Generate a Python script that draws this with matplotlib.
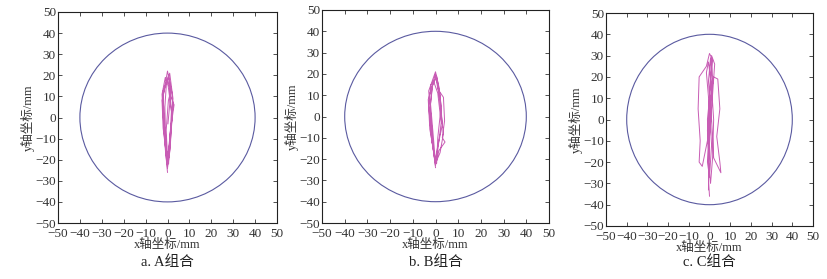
import matplotlib
matplotlib.use("Agg")
import matplotlib.pyplot as plt
from matplotlib.patches import Circle

plt.rcParams['font.family'] = ['Liberation Serif', 'Noto Sans CJK SC']

ticks = [-50, -40, -30, -20, -10, 0, 10, 20, 30, 40, 50]
radius = 40
captions = ["a. A组合", "b. B组合", "c. C组合"]

A_x = [0, -1.0, -1.5, -2.0, 0.0, 2.0, 2.5, 1.0, 0.5, -0.5, -2.0, -2.5, -1.0, 0.5, 1.5, 3.0,
       1.5, 0.0, -1.0, -1.8, -2.2, 0.0, 1.0, 2.0, 1.2, 0.0, -0.8, -1.2, -0.5, 1.0, 2.5, 2.0,
       0.8, -0.3, -1.5, -2.5, -1.0, 0.3, 1.8, 1.0, 0.0, -0.6, 0.4, 1.6, 0.2]
A_y = [-26, -15, 0, 10, 22, 12, 5, -10, -22, -18, -5, 8, 15, 20, 10, 6, -5, -20, -10, 2, 12,
       18, 14, 0, -15, -24, -12, 5, 16, 21, 9, -2, -18, -22, -8, 11, 19, 15, 3, -12, -19,
       -6, 8, 13, -3]

B_x = [0, -1.0, -2.0, -3.0, 0.0, 1.5, 2.5, 1.0, 0.5, -0.5, -2.5, -3.2, -1.0, 0.0, 1.0, 3.5,
       4.0, 3.0, 4.2, 1.5, 0.0, -1.5, -2.5, -1.5, 0.5, 2.0, 3.0, 1.0, -0.2, -1.8, -3.0, -2.0,
       0.5, 1.8, 3.5, 2.0, 0.0, -1.0, -2.2, -1.0, 1.0, 2.5, 0.5]
B_y = [-24, -15, 0, 12, 21, 14, 5, -10, -22, -18, -6, 8, 16, 20, 13, 9, -2, -10, -12, -16,
       -23, -12, 2, 14, 19, 10, -4, -14, -21, -10, 5, 15, 18, 8, -8, -17, -22, -9, 6, 17,
       11, -3, -20]

C_x = [0, -0.5, 0.0, -1.0, 0.5, 1.5, 0.0, -1.5, -5.0, -5.5, -4.5, -5.0, -3.5, -1.0, 0.5,
       1.5, 0.5, -0.5, 1.0, 2.0, 5.5, 5.0, 3.5, 5.0, 4.0, 2.0, 0.5, -1.0, -0.5, 0.5, 1.5,
       2.0, 1.0, -0.5, -1.5, 0.0, 1.0, 0.0, -1.0, 0.5, 2.5, 1.0, 0.0, -0.5]
C_y = [-36, -28, -15, 0, 15, 28, 31, 25, 20, 5, -10, -20, -22, -10, 5, 20, 29, 18, 0, -18,
       -25, -20, -8, 5, 19, 20, 10, -5, -20, -30, -18, 0, 15, 27, 22, 5, -12, -27, -20, -2,
       26, 30, 12, -33]

panels = [
    ((58, 12, 277, 223), A_x, A_y),
    ((322, 10, 549, 223), B_x, B_y),
    ((606, 13, 813, 226), C_x, C_y),
]

W, H = 828, 279
fig = plt.figure(figsize=(W / 100, H / 100), dpi=100)

for (l, t, r, b), xs, ys in panels:
    ax = fig.add_axes([l / W, 1 - b / H, (r - l) / W, (b - t) / H])
    ax.set_xlim(-50, 50)
    ax.set_ylim(-50, 50)
    ax.set_xticks(ticks)
    ax.set_yticks(ticks)
    ax.set_xticklabels([str(v).replace('-', '−') for v in ticks])
    ax.set_yticklabels([str(v).replace('-', '−') for v in ticks])
    ax.tick_params(direction='in', top=True, right=True, length=3, width=0.6,
                   labelsize=9.5, colors='#333333')
    ax.tick_params(axis='x', pad=3.5)
    ax.tick_params(axis='y', pad=1.5)
    for s in ax.spines.values():
        s.set_linewidth(0.8)
        s.set_color('#222222')
    ax.add_patch(Circle((0, 0), radius, fill=False, edgecolor='#5a5aa0', linewidth=0.8))
    ax.plot(xs, ys, color='#c85cb4', linewidth=0.7)
    ax.set_xlabel('x轴坐标/mm', fontsize=9, labelpad=-1, color='#333333')
    ax.set_ylabel('y轴坐标/mm', fontsize=9, labelpad=0, color='#333333')

for (l, t, r, b), cap in zip([p[0] for p in panels], captions):
    fig.text((l + r) / 2 / W, 1 - 262 / H, cap, ha='center', va='center', fontsize=10.5,
             color='#222222')

fig.savefig('out.png', dpi=100, facecolor='white')
